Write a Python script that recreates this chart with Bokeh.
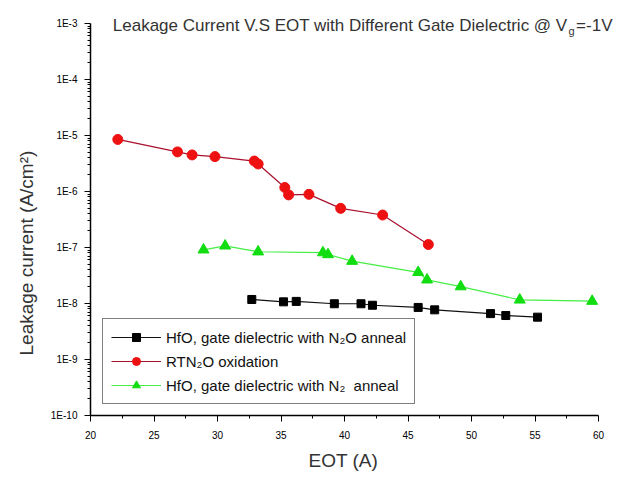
import math
from bokeh.plotting import figure
from bokeh.models import (Range1d, FixedTicker, CustomJSTickFormatter, Legend, LegendItem, Label, Title)
from bokeh.embed import file_html
from bokeh.resources import INLINE

# ---------------- data ----------------
eot_hfo_n2o = [32.7, 35.2, 36.2, 39.2, 41.3, 42.2, 45.8, 47.1, 51.5, 52.7, 55.2]
j_hfo_n2o = [1.18e-8, 1.07e-8, 1.09e-8, 9.9e-9, 9.9e-9, 9.3e-9, 8.5e-9, 7.7e-9, 6.6e-9, 6.1e-9, 5.7e-9]

eot_rtn2o = [22.15, 26.85, 28.0, 29.8, 32.9, 33.2, 35.3, 35.6, 37.2, 39.7, 43.0, 46.6]
j_rtn2o = [8.5e-6, 5.1e-6, 4.5e-6, 4.2e-6, 3.5e-6, 3.1e-6, 1.18e-6, 8.7e-7, 8.9e-7, 5.0e-7, 3.8e-7, 1.13e-7]

eot_hfo_n2 = [28.9, 30.6, 33.2, 38.3, 38.7, 40.6, 45.8, 46.5, 49.15, 53.8, 59.5]
j_hfo_n2 = [9.1e-8, 1.07e-7, 8.4e-8, 8.1e-8, 7.5e-8, 5.7e-8, 3.6e-8, 2.65e-8, 2.0e-8, 1.16e-8, 1.10e-8]

x_ticks = [20, 25, 30, 35, 40, 45, 50, 55, 60]
x_minor = [22.5, 27.5, 32.5, 37.5, 42.5, 47.5, 52.5, 57.5]
y_ticks = [1e-10, 1e-9, 1e-8, 1e-7, 1e-6, 1e-5, 1e-4, 1e-3]

labels = ["HfO, gate dielectric with N\u2082O anneal",
          "RTN\u2082O oxidation",
          "HfO, gate dielectric with N\u2082  anneal"]

title_main = "Leakage Current V.S EOT with Different Gate Dielectric @ V"
title_sub = "g"
title_end = "=-1V"
y_label = "Leakage current (A/cm\u00b2)"
x_label = "EOT (A)"

# ---------------- layout geometry ----------------
W, H = 626, 479
LEFT, BOTTOM = 90, 64          # frame starts at x=90, ends 64 px above the bottom
PX_PER_EOT = 12.7              # 20 -> x=90, 60 -> x=598
PX_PER_DECADE = 56.0           # 1E-10 -> y=415, 1E-3 -> y=23
frame_w = W - LEFT
frame_h = H - BOTTOM
x_lo = x_ticks[0]
x_hi = x_lo + frame_w / PX_PER_EOT
y_lo = y_ticks[0]
y_hi = 10 ** (math.log10(y_lo) + frame_h / PX_PER_DECADE)

p = figure(width=W, height=H, y_axis_type="log",
           x_range=Range1d(x_lo, x_hi), y_range=Range1d(y_lo, y_hi),
           output_backend="svg", toolbar_location=None,
           min_border_left=LEFT, min_border_right=0,
           min_border_top=0, min_border_bottom=BOTTOM)
p.outline_line_color = None
p.grid.visible = False

FONT = "Liberation Sans"

y_minor = []
for d in range(-10, -3):
    for k in range(2, 10):
        y_minor.append(k * 10.0 ** d)

p.xaxis.ticker = FixedTicker(ticks=x_ticks, minor_ticks=x_minor)
p.yaxis.ticker = FixedTicker(ticks=y_ticks, minor_ticks=y_minor)
p.yaxis.formatter = CustomJSTickFormatter(code="return '1E' + Math.round(Math.log10(tick)).toString();")
p.xaxis.bounds = (x_ticks[0], x_ticks[-1])
p.yaxis.bounds = (y_ticks[0], y_ticks[-1])

for ax in (p.xaxis[0], p.yaxis[0]):
    ax.axis_line_color = "black"
    ax.axis_line_width = 1.5
    ax.major_tick_line_color = "black"
    ax.minor_tick_line_color = "black"
    ax.major_tick_in = 0
    ax.major_tick_out = 6
    ax.minor_tick_in = 0
    ax.minor_tick_out = 3
    ax.major_label_text_font = FONT
    ax.major_label_text_font_size = "10px"
    ax.major_label_text_color = "black"

p.xaxis.major_label_standoff = 9
p.yaxis.major_label_standoff = 7

# axis titles as side titles so that they can be placed like the reference
p.add_layout(Title(text=y_label, align="left", offset=60, standoff=22,
                   text_font=FONT, text_font_size="19px", text_font_style="normal",
                   text_color="#333333"), "left")
p.add_layout(Title(text=x_label, align="left", offset=218, standoff=12,
                   text_font=FONT, text_font_size="19px", text_font_style="normal",
                   text_color="#333333"), "below")

# ---------------- series ----------------
l1 = p.line(eot_hfo_n2o, j_hfo_n2o, line_color="#111111", line_width=1.2)
s1 = p.scatter(eot_hfo_n2o, j_hfo_n2o, marker="square", size=8, fill_color="black", line_color="black")

l2 = p.line(eot_rtn2o, j_rtn2o, line_color="#a8102e", line_width=1.2)
s2 = p.scatter(eot_rtn2o, j_rtn2o, marker="circle", size=10, fill_color="#ee1111", line_color="#ee1111")

l3 = p.line(eot_hfo_n2, j_hfo_n2, line_color="#44ee44", line_width=1.2)
s3 = p.scatter(eot_hfo_n2, j_hfo_n2, marker="triangle", size=11, fill_color="#11dd11", line_color="#11dd11")

legend = Legend(items=[LegendItem(label=labels[0], renderers=[l1, s1]),
                       LegendItem(label=labels[1], renderers=[l2, s2]),
                       LegendItem(label=labels[2], renderers=[l3, s3])],
                location=(12, 11), orientation="vertical")
legend.border_line_color = "black"
legend.border_line_width = 1.2
legend.background_fill_alpha = 1
legend.label_text_font = FONT
legend.label_text_font_size = "15px"
legend.label_text_color = "#111111"
legend.glyph_width = 50
legend.glyph_height = 20
legend.label_height = 20
legend.spacing = 4
legend.padding = 8
legend.margin = 0
legend.label_standoff = 5
p.add_layout(legend, "center")

# ---------------- title (with subscript), frame-relative screen units ----------------
TR = 612 - LEFT        # right edge of the title
TB = frame_h - 25      # baseline of the title
t3 = Label(x=TR, y=TB, x_units="screen", y_units="screen", text=title_end,
           text_align="right", text_baseline="alphabetic",
           text_font=FONT, text_font_size="17px", text_color="#333333")
t2 = Label(x=TR - 38, y=TB - 5, x_units="screen", y_units="screen", text=title_sub,
           text_align="right", text_baseline="alphabetic",
           text_font=FONT, text_font_size="11px", text_color="#333333")
t1 = Label(x=TR - 45, y=TB, x_units="screen", y_units="screen", text=title_main,
           text_align="right", text_baseline="alphabetic",
           text_font=FONT, text_font_size="17px", text_color="#333333")
for t in (t1, t2, t3):
    p.add_layout(t)

open("out.html", "w").write(file_html(p, INLINE))
